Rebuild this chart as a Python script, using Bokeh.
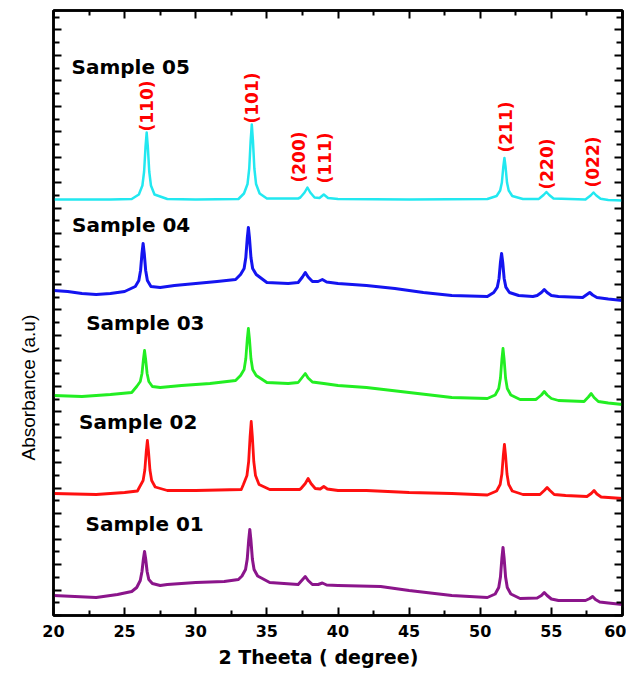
import math
from bokeh.plotting import figure
from bokeh.models import Range1d, LinearAxis, FixedTicker, Title
from bokeh.core.properties import value
from bokeh.embed import file_html
from bokeh.resources import INLINE

# ---------------- data (2θ in degrees, intensity in arbitrary units, already stacked) -------------
s05_x = [20, 24, 25.5, 26.0, 26.25, 26.37, 26.47, 26.55, 26.63, 26.73, 26.85, 27.1, 28, 30, 33.0,
         33.39, 33.64, 33.76, 33.86, 33.94, 34.02, 34.12, 34.24, 34.49, 35, 37.2, 37.35, 37.65, 37.85,
         38.05, 38.35, 38.7, 39.0, 39.3, 40, 45, 50.5, 51.15, 51.4, 51.52, 51.62, 51.7, 51.78, 51.88,
         52.0, 52.25, 53, 54.1, 54.15, 54.45, 54.65, 54.85, 55.15, 57.4, 57.46, 57.76, 57.96, 58.16,
         58.46, 59, 60]
s05_y = [416, 416, 416.5, 421, 430, 444, 469, 483, 469, 444, 430, 421, 416.5, 416, 416.5,
         422, 431.5, 447, 475, 491, 475, 447, 431.5, 422, 417, 417, 418, 423, 428,
         423, 418, 417.5, 421, 417.5, 416.5, 416, 416.5, 419.5, 425, 433, 448.5, 457.5, 448.5, 433,
         425, 419.5, 416.5, 416.5, 417, 420.5, 423.5, 420.5, 417, 416, 416.7, 420, 423, 420,
         416.7, 415.5, 415]

s04_x = [20, 21, 22, 23, 24, 25, 25.75, 26.0, 26.12, 26.22, 26.3, 26.38, 26.48, 26.6, 26.85, 27.5,
         28.5, 30, 31.5, 32.8, 33.15, 33.4, 33.52, 33.62, 33.7, 33.78, 33.88, 34.0, 34.25, 35, 36.5,
         37.2, 37.5, 37.7, 37.9, 38.2, 38.6, 38.9, 39.2, 40, 42, 44, 46, 48, 50.5, 50.95, 51.2, 51.32,
         51.42, 51.5, 51.58, 51.68, 51.8, 52.05, 52.7, 53.7, 54.0, 54.3, 54.5, 54.7, 55.0, 55.5, 57.2,
         57.5, 57.7, 57.9, 58.2, 59, 60]
s04_y = [325, 324, 322, 321, 322, 324, 329, 335, 345, 362, 372, 362, 345, 335, 329, 328,
         330, 332, 334, 336, 341, 347, 358, 377, 388, 377, 358, 347, 341, 333, 332,
         333, 338.5, 343, 338.5, 334, 334, 336, 333.5, 332, 330, 327, 323, 320, 319, 323, 328.4, 337,
         353, 362, 353, 337, 328.4, 323, 320, 319, 320, 323, 326, 323, 320, 319, 318,
         321, 323, 320.5, 318, 316.5, 315]

s03_x = [20, 22, 24, 25.5, 25.85, 26.1, 26.22, 26.32, 26.4, 26.48, 26.58, 26.7, 26.95, 27.5, 29, 31,
         32.8, 33.15, 33.4, 33.52, 33.62, 33.7, 33.78, 33.88, 34.0, 34.25, 35, 36.5, 37.2, 37.45, 37.7,
         37.9, 38.2, 39, 40, 42, 45, 48, 50.5, 51.05, 51.3, 51.42, 51.52, 51.6, 51.68, 51.78, 51.9,
         52.15, 52.8, 53.9, 54.0, 54.3, 54.5, 54.7, 55.0, 55.5, 57.3, 57.6, 57.8, 58.0, 58.3, 59, 60]
s03_y = [220, 219, 221, 223, 229, 234, 242, 256, 265, 256, 242, 234, 229, 228, 230, 232,
         235, 240, 246, 257, 276, 287, 276, 257, 246, 240, 233, 232, 233, 237.5, 242,
         237.5, 233.5, 232, 230, 228, 223, 218, 217, 220.5, 227, 237.5, 256, 267, 256, 237.5, 227,
         220.5, 216, 216, 217, 220.5, 224, 220.5, 217, 215, 214, 218.5, 222, 218, 214, 212.5, 211]

s02_x = [20, 23, 25, 25.9, 26.05, 26.3, 26.42, 26.52, 26.6, 26.68, 26.78, 26.9, 27.15, 28, 30, 33.2,
         33.35, 33.6, 33.72, 33.82, 33.9, 33.98, 34.08, 34.2, 34.45, 35.2, 37.3, 37.4, 37.7, 37.9, 38.1,
         38.4, 38.75, 39.0, 39.25, 40, 42, 45, 48, 50.5, 51.15, 51.4, 51.52, 51.62, 51.7, 51.78, 51.88,
         52.0, 52.25, 53, 54.2, 54.5, 54.7, 54.9, 55.2, 56, 57.5, 57.8, 58.0, 58.2, 58.5, 59, 60]
s02_y = [122, 121, 123, 124.5, 128.5, 135, 145.5, 164, 175, 164, 145.5, 135, 128.5, 125, 125, 126,
         131, 140, 154, 179, 194, 179, 154, 140, 131, 126, 126, 127, 132, 137, 132,
         127, 126.5, 129, 126.5, 125, 125, 123, 122, 120.5, 124.5, 131, 141.5, 160, 171, 160, 141.5,
         131, 124.5, 121, 121, 125, 128, 125, 121, 120, 119, 122, 125, 121.5, 118.5, 118, 117]

s01_x = [20, 21.5, 23, 24.5, 25.5, 25.85, 26.1, 26.22, 26.32, 26.4, 26.48, 26.58, 26.7, 26.95, 27.5,
         28, 30, 32, 33.0, 33.25, 33.5, 33.62, 33.72, 33.8, 33.88, 33.98, 34.1, 34.35, 35.2, 37.2,
         37.45, 37.7, 37.9, 38.2, 38.6, 38.9, 39.2, 40, 43, 45, 48, 50.5, 51.05, 51.3, 51.42, 51.52,
         51.6, 51.68, 51.78, 51.9, 52.15, 52.8, 54.0, 54.3, 54.5, 54.7, 55.0, 55.5, 57.4, 57.7, 57.9,
         58.1, 58.4, 59, 60]
s01_y = [20, 19, 18, 21, 24, 28, 35, 44, 56.5, 64, 56.5, 44, 36, 32, 30,
         31, 33, 34, 36, 39.5, 46, 56.5, 75, 86, 75, 56.5, 46, 39.5, 33, 31,
         35, 39, 35, 31, 31, 32.5, 30.5, 30, 29, 25, 20, 18, 21.5, 28, 38.5, 57,
         68, 57, 38.5, 28, 21.5, 17, 17.5, 20, 23, 20, 16.5, 15, 15, 17, 19,
         16, 13.5, 12.5, 11]

sample_names = ["Sample 05", "Sample 04", "Sample 03", "Sample 02", "Sample 01"]
sample_label_x = [21.27, 21.3, 22.3, 21.8, 22.25]
sample_label_y = [549, 391, 293, 194, 92]

peak_labels = ["(110)", "(101)", "(200)", "(111)", "(211)", "(220)", "(022)"]
peak_label_x = [26.55, 33.94, 37.25, 39.1, 51.83, 54.7, 57.96]
peak_label_y = [484, 492, 433, 432, 463, 426, 428]

x_major_ticks = [20, 25, 30, 35, 40, 45, 50, 55, 60]
x_minor_ticks = [22.5, 27.5, 32.5, 37.5, 42.5, 47.5, 52.5, 57.5]

# ---------------- figure -------------
p = figure(width=626, height=672, output_backend="svg", toolbar_location=None,
           x_range=Range1d(20, 60), y_range=Range1d(0, 605),
           min_border_left=53, min_border_right=4, min_border_top=10, min_border_bottom=57)
p.xgrid.visible = False
p.ygrid.visible = False
p.outline_line_color = "black"
p.outline_line_width = 2.5
p.background_fill_color = "white"
p.border_fill_color = "white"

y_step = 12.73
y_major = [y_step * k for k in range(0, 48, 2)]
y_minor = [y_step * k for k in range(1, 48, 2)]

bold = value("DejaVu Sans")


def style_x(ax, labels):
    ax.ticker = FixedTicker(ticks=x_major_ticks, minor_ticks=x_minor_ticks)
    ax.axis_line_width = 2.5
    ax.major_tick_in = 8
    ax.major_tick_out = 0
    ax.minor_tick_in = 5
    ax.minor_tick_out = 0
    ax.major_tick_line_width = 2
    ax.minor_tick_line_width = 2
    if labels:
        ax.major_label_text_font = "DejaVu Sans"
        ax.major_label_text_font_style = "bold"
        ax.major_label_text_font_size = "16px"
        ax.major_label_text_color = "black"
        ax.major_label_standoff = 9
    else:
        ax.major_label_text_font_size = "0px"
        ax.major_label_standoff = 0


def style_y(ax):
    ax.ticker = FixedTicker(ticks=y_major, minor_ticks=y_minor)
    ax.axis_line_width = 2.5
    ax.major_tick_in = 8
    ax.major_tick_out = 0
    ax.minor_tick_in = 6
    ax.minor_tick_out = 0
    ax.major_tick_line_width = 2
    ax.minor_tick_line_width = 2
    ax.major_label_text_font_size = "0px"
    ax.major_label_standoff = 0


style_x(p.xaxis[0], True)
style_y(p.yaxis[0])
top_ax = LinearAxis()
style_x(top_ax, False)
p.add_layout(top_ax, "above")
right_ax = LinearAxis()
style_y(right_ax)
p.add_layout(right_ax, "right")

series = [(s01_x, s01_y, "#8B158B", 3.0), (s02_x, s02_y, "#FF1010", 2.8),
          (s03_x, s03_y, "#22EE22", 2.8), (s04_x, s04_y, "#1414F0", 3.0),
          (s05_x, s05_y, "#22E8F0", 2.5)]
for xs, ys, c, w in series:
    p.line(xs, ys, line_color=c, line_width=w, line_join="round")

p.text(x=sample_label_x, y=sample_label_y, text=sample_names, text_font=bold,
       text_font_style="bold", text_font_size="20px", text_color="black",
       text_align="left", text_baseline="middle")

p.text(x=peak_label_x, y=peak_label_y, text=peak_labels, text_font=bold,
       text_font_style="bold", text_font_size="17px", text_color="#FF0000",
       text_align="left", text_baseline="middle", angle=math.pi / 2)

xt = Title(text="2 Theeta ( degree)", align="left", offset=165, standoff=9,
           text_font="DejaVu Sans", text_font_style="bold", text_font_size="19px",
           text_color="black")
p.add_layout(xt, "below")
yt = Title(text="Absorbance (a.u)", align="left", offset=155, standoff=29,
           text_font="Liberation Sans", text_font_style="normal", text_font_size="19px",
           text_color="black")
p.add_layout(yt, "left")

open("out.html", "w").write(file_html(p, INLINE))
